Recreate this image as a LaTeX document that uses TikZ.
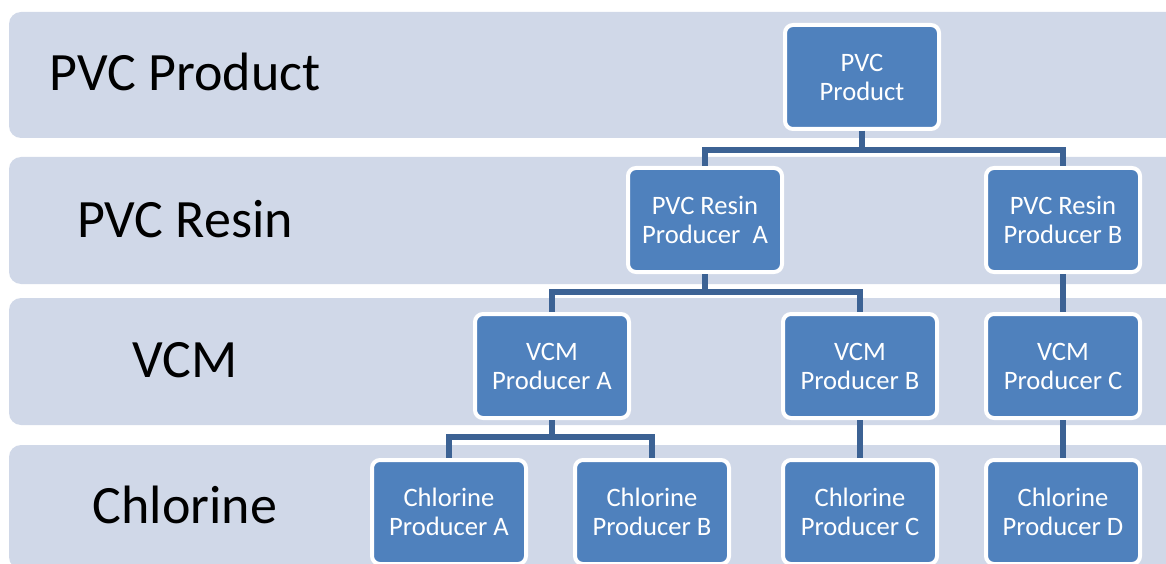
\documentclass[tikz,border=0pt]{standalone}
\usepackage{fontspec}
\setmainfont{Carlito}
\definecolor{bandgray}{RGB}{208,216,232}
\definecolor{boxblue}{RGB}{79,129,189}
\definecolor{linkblue}{RGB}{60,98,148}
\tikzset{
	bandstyle/.style={fill=bandgray,rounded corners=6pt},
	levelstyle/.style={font=\fontsize{27}{31}\selectfont},
	boxstyle/.style={rectangle,rounded corners=4pt,draw=white,line width=2pt,fill=boxblue,text=white,minimum width=77pt,minimum height=52pt,inner sep=0pt,align=center,font=\fontsize{13.3}{14.5}\selectfont},
	linkstyle/.style={draw=linkblue,line width=2.7pt}
}

\begin{document}
\begin{tikzpicture}[x=0.5pt,y=0.5pt]
	\useasboundingbox (0,0) rectangle (1166,563);
	\clip (0,0) rectangle (1166,563);
	\fill[bandstyle] (9,425) rectangle (1190,551);
	\fill[bandstyle] (9,279) rectangle (1190,406);
	\fill[bandstyle] (9,138) rectangle (1190,265);
	\fill[bandstyle] (9,-6) rectangle (1190,118);
	\node[levelstyle] (lproduct) at (185,491) {PVC Product};
	\node[levelstyle] (lresin) at (185,344) {PVC Resin};
	\node[levelstyle] (lvcm) at (185,203) {VCM};
	\node[levelstyle] (lchlorine) at (185,58) {Chlorine};
	\node[boxstyle] (pvc) at (862,486) {PVC\\Product};
	\node[boxstyle] (resinA) at (705,343) {PVC Resin\\Producer\ \ A};
	\node[boxstyle] (resinB) at (1063,343) {PVC Resin\\Producer B};
	\node[boxstyle] (vcmA) at (552,197) {VCM\\Producer A};
	\node[boxstyle] (vcmB) at (860,197) {VCM\\Producer B};
	\node[boxstyle] (vcmC) at (1063,197) {VCM\\Producer C};
	\node[boxstyle] (clA) at (449,51) {Chlorine\\Producer A};
	\node[boxstyle] (clB) at (652,51) {Chlorine\\Producer B};
	\node[boxstyle] (clC) at (860,51) {Chlorine\\Producer C};
	\node[boxstyle] (clD) at (1063,51) {Chlorine\\Producer D};
	\coordinate (bar1) at (0,413);
	\coordinate (bar2) at (0,271);
	\coordinate (bar3) at (0,126);
	\draw[linkstyle] (pvc.south) -- (pvc.south |- bar1) -| (resinA.north);
	\draw[linkstyle] (pvc.south) -- (pvc.south |- bar1) -| (resinB.north);
	\draw[linkstyle] (resinA.south) -- (resinA.south |- bar2) -| (vcmA.north);
	\draw[linkstyle] (resinA.south) -- (resinA.south |- bar2) -| (vcmB.north);
	\draw[linkstyle] (resinB.south) -- (vcmC.north);
	\draw[linkstyle] (vcmA.south) -- (vcmA.south |- bar3) -| (clA.north);
	\draw[linkstyle] (vcmA.south) -- (vcmA.south |- bar3) -| (clB.north);
	\draw[linkstyle] (vcmB.south) -- (clC.north);
	\draw[linkstyle] (vcmC.south) -- (clD.north);
\end{tikzpicture}
\end{document}
